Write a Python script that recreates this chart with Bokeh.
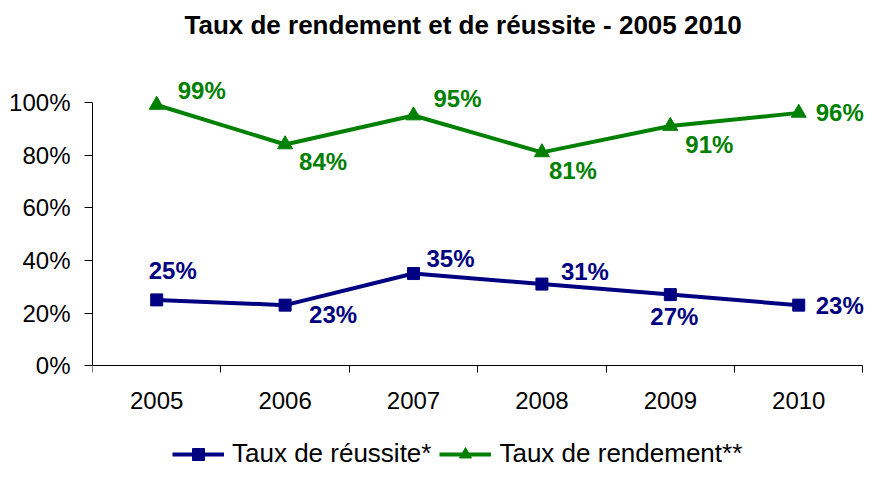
from bokeh.plotting import figure
from bokeh.models import (Range1d, LinearAxis, FixedTicker, NumeralTickFormatter,
                          BasicTickFormatter, Legend, LegendItem)
from bokeh.embed import file_html
from bokeh.resources import INLINE
from bokeh.core.properties import value

# ---- data ----
years = [2005, 2006, 2007, 2008, 2009, 2010]
reussite = [0.25, 0.23, 0.35, 0.31, 0.27, 0.23]
rendement = [0.99, 0.84, 0.95, 0.81, 0.91, 0.96]
y_ticks = [0.0, 0.2, 0.4, 0.6, 0.8, 1.0]
title_text = "Taux de rendement et de réussite - 2005 2010"
name_reussite = "Taux de réussite*"
name_rendement = "Taux de rendement**"

# ---- label placement (screen px offsets) ----
reussite_dx = [-8, 24, 13, 19, -20, 17]
reussite_dy = [-29, 9, -15, -13, 22, 0]
rendement_dx = [21, 14, 20, 7, 15, 17]
rendement_dy = [-14, 17, -17, 18, 18, 0]

FONT = "Liberation Sans"
BLUE = "#000080"
GREEN = "#008000"

# frame reaches the bottom of the figure so the legend can sit under the axis
p = figure(width=865, height=469,
           x_range=Range1d(years[0] - 0.5, years[-1] + 0.52),
           y_range=Range1d(-0.394, 1.212),
           x_axis_type=None, y_axis_type=None,
           output_backend="svg", toolbar_location=None,
           min_border_left=92, min_border_right=0,
           min_border_top=0, min_border_bottom=0)
p.grid.visible = False
p.outline_line_color = None
p.background_fill_color = "white"
p.border_fill_color = "white"

p.title.text = title_text
p.title.text_font = FONT
p.title.text_font_size = "26px"
p.title.text_font_style = "bold"
p.title.text_color = "black"
p.title.align = "left"
p.title.offset = 92
p.title.standoff = 14

# y axis
yaxis = LinearAxis(ticker=FixedTicker(ticks=y_ticks),
                   formatter=NumeralTickFormatter(format="0%"),
                   bounds=(0, 1))
yaxis.major_tick_out = 8
yaxis.major_tick_in = 0
yaxis.minor_tick_out = 0
yaxis.minor_tick_in = 0
yaxis.major_label_standoff = 14
yaxis.major_label_text_font = FONT
yaxis.major_label_text_font_size = "24px"
yaxis.major_label_text_color = "black"
yaxis.axis_line_color = "black"
yaxis.major_tick_line_color = "black"
p.add_layout(yaxis, "left")

# x axis at y = 0 (labels at category centres, ticks at category boundaries)
bounds_ticks = [y - 0.5 for y in years] + [years[-1] + 0.5]
xaxis = LinearAxis(ticker=FixedTicker(ticks=years, minor_ticks=bounds_ticks),
                   formatter=BasicTickFormatter(use_scientific=False),
                   bounds=(years[0] - 0.5, years[-1] + 0.5),
                   fixed_location=0)
xaxis.major_tick_out = 0
xaxis.major_tick_in = 0
xaxis.minor_tick_out = 7
xaxis.minor_tick_in = 0
xaxis.major_label_standoff = 19
xaxis.major_label_text_font = FONT
xaxis.major_label_text_font_size = "24px"
xaxis.major_label_text_color = "black"
xaxis.axis_line_color = "black"
xaxis.minor_tick_line_color = "black"
p.add_layout(xaxis, "below")

# series
gl = p.line(years, rendement, line_color=GREEN, line_width=4)
gs = p.scatter(years, rendement, marker="triangle", size=15,
               fill_color=GREEN, line_color=GREEN)
bl = p.line(years, reussite, line_color=BLUE, line_width=4)
bs = p.scatter(years, reussite, marker="square", size=12,
               fill_color=BLUE, line_color=BLUE)

p.text(x=years, y=rendement, text=[f"{round(v * 100)}%" for v in rendement],
       x_offset=rendement_dx, y_offset=rendement_dy,
       text_font=value(FONT), text_font_style="bold", text_font_size="24px",
       text_color=GREEN, text_align="left", text_baseline="middle")
p.text(x=years, y=reussite, text=[f"{round(v * 100)}%" for v in reussite],
       x_offset=reussite_dx, y_offset=reussite_dy,
       text_font=value(FONT), text_font_style="bold", text_font_size="24px",
       text_color=BLUE, text_align="left", text_baseline="middle")

legend = Legend(items=[LegendItem(label=name_reussite, renderers=[bl, bs]),
                       LegendItem(label=name_rendement, renderers=[gl, gs])],
                orientation="horizontal", location=(80, 0),
                label_text_font=FONT, label_text_font_size="26px",
                label_text_color="black",
                glyph_width=52, glyph_height=30, label_height=24,
                label_standoff=8, spacing=8, padding=0, margin=0,
                border_line_color=None, background_fill_alpha=0)
p.add_layout(legend, "center")

open("out.html", "w").write(file_html(p, INLINE))
